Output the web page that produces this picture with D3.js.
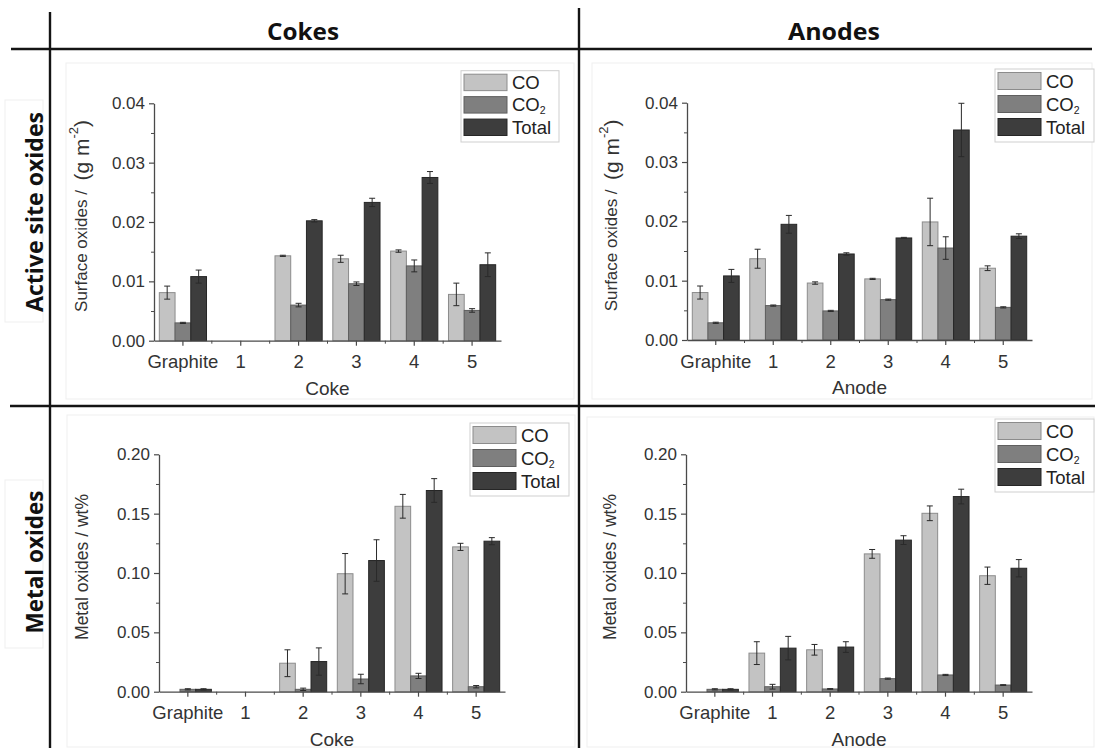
<!DOCTYPE html>
<html>
<head>
<meta charset="utf-8">
<script src="https://cdn.jsdelivr.net/npm/d3@7"></script>
<style>
  html,body{margin:0;padding:0;background:#fff;}
  svg{display:block;}
</style>
</head>
<body>
<svg id="chart" width="1097" height="751"></svg>
<script>
// ---------------- DATA ----------------
const categoriesCoke = ["Graphite", "1", "2", "3", "4", "5"];
const categoriesAnode = ["Graphite", "1", "2", "3", "4", "5"];
const seriesNames = ["CO", "CO2", "Total"];
const activeTicks = [0, 0.01, 0.02, 0.03, 0.04];
const activeMinor = [0.005, 0.015, 0.025, 0.035];
const metalTicks = [0, 0.05, 0.10, 0.15, 0.20];
const metalMinor = [0.025, 0.075, 0.125, 0.175];

// Active site oxides - cokes (g m-2)
const cokeActCO = [0.0081, null, 0.0143, 0.0138, 0.0151, 0.0078];
const cokeActCOerr = [0.0011, 0, 0.0001, 0.0006, 0.0002, 0.0019];
const cokeActCO2 = [0.0030, null, 0.0060, 0.0096, 0.0126, 0.0051];
const cokeActCO2err = [0.0001, 0, 0.0003, 0.0003, 0.0010, 0.0003];
const cokeActTot = [0.0108, null, 0.0202, 0.0233, 0.0275, 0.0128];
const cokeActToterr = [0.0011, 0, 0.0002, 0.0007, 0.0010, 0.0020];

// Active site oxides - anodes (g m-2)
const anodeActCO = [0.0080, 0.0137, 0.0096, 0.0103, 0.0199, 0.0121];
const anodeActCOerr = [0.0011, 0.0016, 0.0002, 0.0001, 0.0040, 0.0004];
const anodeActCO2 = [0.0029, 0.0058, 0.0049, 0.0068, 0.0155, 0.0055];
const anodeActCO2err = [0.0001, 0.0001, 0.0001, 0.0001, 0.0019, 0.0001];
const anodeActTot = [0.0108, 0.0195, 0.0145, 0.0172, 0.0354, 0.0175];
const anodeActToterr = [0.0011, 0.0015, 0.0002, 0.0001, 0.0045, 0.0004];

// Metal oxides - cokes (wt%)
const cokeMetCO = [null, null, 0.0240, 0.0994, 0.1562, 0.1220];
const cokeMetCOerr = [0, 0, 0.0113, 0.0170, 0.0100, 0.0030];
const cokeMetCO2 = [0.0020, null, 0.0020, 0.0107, 0.0133, 0.0042];
const cokeMetCO2err = [0.0005, 0, 0.0010, 0.0040, 0.0022, 0.0010];
const cokeMetTot = [0.0020, null, 0.0254, 0.1105, 0.1695, 0.1268];
const cokeMetToterr = [0.0005, 0, 0.0115, 0.0175, 0.0100, 0.0030];

// Metal oxides - anodes (wt%)
const anodeMetCO = [null, 0.0325, 0.0353, 0.1161, 0.1503, 0.0977];
const anodeMetCOerr = [0, 0.0096, 0.0045, 0.0037, 0.0062, 0.0073];
const anodeMetCO2 = [0.0020, 0.0042, 0.0023, 0.0110, 0.0141, 0.0056];
const anodeMetCO2err = [0.0005, 0.0020, 0.0003, 0.0005, 0.0005, 0.0003];
const anodeMetTot = [0.0020, 0.0367, 0.0376, 0.1277, 0.1644, 0.1040];
const anodeMetToterr = [0.0005, 0.0099, 0.0045, 0.0037, 0.0062, 0.0073];

// ---------------- STYLE ----------------
const fills = {CO: "#c3c3c3", CO2: "#7f7f7f", Total: "#3d3d3d"};
const strokes = {CO: "#8c8c8c", CO2: "#5f5f5f", Total: "#262626"};
const FONT = "'Liberation Sans', Arial, Helvetica, sans-serif";
const HFONT = "'Open Sans', 'Noto Sans', sans-serif";

const svg = d3.select("#chart");

// faint frames around the pasted panels / labels
const frames = [
  [66, 63, 508, 336], [592, 63, 500, 336], [67, 415, 508, 332], [587, 417, 507, 330],
  [5, 100, 38, 222], [5, 480, 38, 168]
];
svg.selectAll("rect.frame").data(frames).join("rect")
  .attr("x", d => d[0]).attr("y", d => d[1]).attr("width", d => d[2]).attr("height", d => d[3])
  .attr("fill", "none").attr("stroke", "#efefef").attr("stroke-width", 1);

// grid lines of the table
const tline = (x1, y1, x2, y2, w) => svg.append("line")
  .attr("x1", x1).attr("y1", y1).attr("x2", x2).attr("y2", y2)
  .attr("stroke", "#141414").attr("stroke-width", w);
tline(11, 49, 1092, 49, 2.6);
tline(50, 12, 50, 748, 2.4);
tline(579, 8, 579, 748, 2.4);
tline(10, 406, 1095, 406, 2.4);

// header titles
svg.append("text").attr("x", 303).attr("y", 40).attr("text-anchor", "middle")
  .attr("font-family", HFONT).attr("font-weight", "bold").attr("font-size", 24)
  .attr("textLength", 72).attr("lengthAdjust", "spacingAndGlyphs").attr("fill", "#111").text("Cokes");
svg.append("text").attr("x", 834).attr("y", 40).attr("text-anchor", "middle")
  .attr("font-family", HFONT).attr("font-weight", "bold").attr("font-size", 24)
  .attr("textLength", 92).attr("lengthAdjust", "spacingAndGlyphs").attr("fill", "#111").text("Anodes");

// row labels
svg.append("text").attr("transform", "translate(43,212) rotate(-90)").attr("text-anchor", "middle")
  .attr("font-family", HFONT).attr("font-weight", "bold").attr("font-size", 24)
  .attr("textLength", 200).attr("lengthAdjust", "spacingAndGlyphs").attr("fill", "#111").text("Active site oxides");
svg.append("text").attr("transform", "translate(43,562) rotate(-90)").attr("text-anchor", "middle")
  .attr("font-family", HFONT).attr("font-weight", "bold").attr("font-size", 24)
  .attr("textLength", 143).attr("lengthAdjust", "spacingAndGlyphs").attr("fill", "#111").text("Metal oxides");

// ---------------- PANELS ----------------
const panels = [
  {x0: 154, x1: 501, yTop: 103.3, yBase: 340.7, max: 0.04, ticks: activeTicks, minor: activeMinor,
   cats: categoriesCoke, xTitle: "Coke", yKind: "surface", yLabX: 81,
   vals: [cokeActCO, cokeActCO2, cokeActTot], errs: [cokeActCOerr, cokeActCO2err, cokeActToterr],
   legend: [461, 70.7, 98, 71.3]},
  {x0: 687, x1: 1032, yTop: 102.7, yBase: 340, max: 0.04, ticks: activeTicks, minor: activeMinor,
   cats: categoriesAnode, xTitle: "Anode", yKind: "surface", yLabX: 611,
   vals: [anodeActCO, anodeActCO2, anodeActTot], errs: [anodeActCOerr, anodeActCO2err, anodeActToterr],
   legend: [995, 69, 99, 73]},
  {x0: 159, x1: 505, yTop: 454.3, yBase: 691.7, max: 0.20, ticks: metalTicks, minor: metalMinor,
   cats: categoriesCoke, xTitle: "Coke", yKind: "metal", yLabX: 82,
   vals: [cokeMetCO, cokeMetCO2, cokeMetTot], errs: [cokeMetCOerr, cokeMetCO2err, cokeMetToterr],
   legend: [470, 423, 99, 73]},
  {x0: 686, x1: 1032, yTop: 454.3, yBase: 691.7, max: 0.20, ticks: metalTicks, minor: metalMinor,
   cats: categoriesAnode, xTitle: "Anode", yKind: "metal", yLabX: 610,
   vals: [anodeMetCO, anodeMetCO2, anodeMetTot], errs: [anodeMetCOerr, anodeMetCO2err, anodeMetToterr],
   legend: [995, 419, 99, 73]}
];

const AX = "#4a4a4a";

panels.forEach(p => {
  const g = svg.append("g");
  const x = d3.scaleBand().domain(p.cats).range([p.x0, p.x1]).paddingInner(0).paddingOuter(0);
  const y = d3.scaleLinear().domain([0, p.max]).range([p.yBase, p.yTop]);
  const bw = x.bandwidth() * 0.272;

  // bars
  seriesNames.forEach((s, si) => {
    const data = p.cats.map((c, i) => ({c, v: p.vals[si][i], e: p.errs[si][i]})).filter(d => d.v != null);
    const cx = d => x(d.c) + x.bandwidth() / 2 + (si - 1) * bw;
    g.selectAll(null).data(data).join("rect")
      .attr("x", d => cx(d) - bw / 2).attr("width", bw)
      .attr("y", d => y(d.v)).attr("height", d => y(0) - y(d.v))
      .attr("fill", fills[s]).attr("stroke", strokes[s]).attr("stroke-width", 1);
    // error bars
    const eb = data.filter(d => d.e > 0);
    g.selectAll(null).data(eb).join("line")
      .attr("x1", cx).attr("x2", cx)
      .attr("y1", d => y(d.v - d.e)).attr("y2", d => y(d.v + d.e))
      .attr("stroke", "#2a2a2a").attr("stroke-width", 1);
    [1, -1].forEach(sg => {
      g.selectAll(null).data(eb).join("line")
        .attr("x1", d => cx(d) - 3).attr("x2", d => cx(d) + 3)
        .attr("y1", d => y(d.v + sg * d.e)).attr("y2", d => y(d.v + sg * d.e))
        .attr("stroke", "#2a2a2a").attr("stroke-width", 1);
    });
  });

  // y axis (major)
  const yAx = g.append("g").attr("transform", `translate(${p.x0},0)`)
    .call(d3.axisLeft(y).tickValues(p.ticks).tickFormat(d3.format(".2f")).tickSize(5).tickSizeOuter(0).tickPadding(4));
  yAx.select(".domain").attr("stroke", AX).attr("stroke-width", 1.3);
  yAx.selectAll(".tick line").attr("stroke", AX).attr("stroke-width", 1.2);
  yAx.selectAll(".tick text").attr("font-family", FONT).attr("font-size", 17).attr("fill", "#333");
  // y minor
  const yMin = g.append("g").attr("transform", `translate(${p.x0},0)`)
    .call(d3.axisLeft(y).tickValues(p.minor).tickFormat("").tickSize(3).tickSizeOuter(0));
  yMin.select(".domain").remove();
  yMin.selectAll(".tick line").attr("stroke", AX).attr("stroke-width", 1);

  // x axis
  const xAx = g.append("g").attr("transform", `translate(0,${p.yBase})`)
    .call(d3.axisBottom(x).tickSize(5).tickSizeOuter(0).tickPadding(5));
  xAx.select(".domain").attr("stroke", AX).attr("stroke-width", 1.3);
  xAx.selectAll(".tick line").attr("stroke", AX).attr("stroke-width", 1.2);
  xAx.selectAll(".tick text").attr("font-family", FONT).attr("font-size", 18.5).attr("fill", "#333")
    .attr("dy", "0.95em");
  // x minor ticks at band boundaries
  const bounds = p.cats.slice(1).map(c => x(c));
  g.selectAll(null).data(bounds).join("line")
    .attr("x1", d => d).attr("x2", d => d).attr("y1", p.yBase).attr("y2", p.yBase + 3)
    .attr("stroke", AX).attr("stroke-width", 1);

  // x title
  g.append("text").attr("x", (p.x0 + p.x1) / 2).attr("y", p.yBase + 54).attr("text-anchor", "middle")
    .attr("font-family", FONT).attr("font-size", 19).attr("fill", "#333").text(p.xTitle);

  // y title
  const yc = (p.yBase + p.yTop) / 2 - 6;
  const yt = g.append("text").attr("transform", `translate(${p.yLabX},${yc}) rotate(-90)`)
    .attr("text-anchor", "middle").attr("dominant-baseline", "central")
    .attr("font-family", FONT).attr("fill", "#333");
  if (p.yKind === "surface") {
    yt.append("tspan").attr("font-size", 17).text("Surface oxides /\u00a0\u00a0");
    yt.append("tspan").attr("font-size", 21).text("(g m");
    yt.append("tspan").attr("font-size", 13).attr("dy", -8).text("-2");
    yt.append("tspan").attr("font-size", 21).attr("dy", 8).text(")");
  } else {
    yt.append("tspan").attr("font-size", 17.5).text("Metal oxides / wt%");
  }

  // legend
  const [lx, ly, lw, lh] = p.legend;
  const lg = g.append("g");
  lg.append("rect").attr("x", lx).attr("y", ly).attr("width", lw).attr("height", lh)
    .attr("fill", "#fff").attr("stroke", "#cfcfcf").attr("stroke-width", 1);
  const rowH = (lh - 4) / 3;
  seriesNames.forEach((s, i) => {
    const ry = ly + 2 + i * rowH;
    lg.append("rect").attr("x", lx + 3).attr("y", ry + 1.5).attr("width", 43).attr("height", rowH - 6)
      .attr("fill", fills[s]).attr("stroke", strokes[s]).attr("stroke-width", 1);
    const t = lg.append("text").attr("x", lx + 51).attr("y", ry + rowH / 2 + 5)
      .attr("font-family", FONT).attr("font-size", 18.5).attr("fill", "#222");
    if (s === "CO2") {
      t.append("tspan").text("CO");
      t.append("tspan").attr("font-size", 10.5).attr("dy", 3).text("2");
    } else {
      t.text(s);
    }
  });
});
</script>
</body>
</html>
